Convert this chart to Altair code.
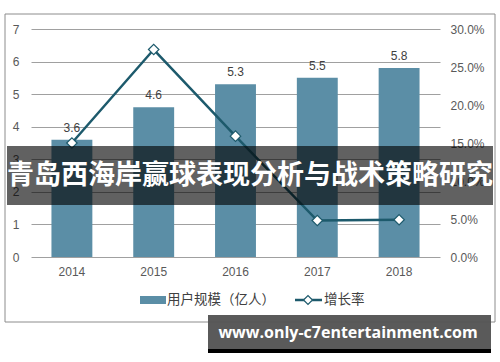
import altair as alt
import pandas as pd

years = ["2014", "2015", "2016", "2017", "2018"]
users = [3.6, 4.6, 5.3, 5.5, 5.8]
growth = [0.150, 0.273, 0.159, 0.048, 0.049]
left_ticks = [0, 1, 2, 3, 4, 5, 6, 7]
right_ticks = [0.0, 0.05, 0.10, 0.15, 0.20, 0.25, 0.30]

title_text = "青岛西海岸赢球表现分析与战术策略研究"
watermark_text = "www.only-c7entertainment.com"
legend_bar = "用户规模（亿人）"
legend_line = "增长率"

df = pd.DataFrame({"year": years, "users": users, "growth": growth})
one = pd.DataFrame({"a": [0]})

NUM_FONT = "Liberation Sans"
CJK_FONT = "Noto Sans CJK SC"
BAR_COLOR = "#5b8ea6"
LINE_COLOR = "#1d5a6c"

x_enc = alt.X("year:N", sort=years, title=None,
              scale=alt.Scale(paddingInner=0.5, paddingOuter=0.25),
              axis=alt.Axis(labelAngle=0, domain=False, ticks=False, labelPadding=9,
                            labelFont=NUM_FONT, labelFontSize=12, labelColor="#595959"))

y_left = alt.Y("users:Q", title=None,
               scale=alt.Scale(domain=[0, 7], nice=False),
               axis=alt.Axis(values=left_ticks, domain=False, ticks=False, labelPadding=12,
                             labelFont=NUM_FONT, labelFontSize=12, labelColor="#595959",
                             grid=True, gridColor="#a0a0a0", gridWidth=1))

y_right = alt.Y("growth:Q", title=None,
                scale=alt.Scale(domain=[0, 0.3], nice=False),
                axis=alt.Axis(values=right_ticks, format=".1%", orient="right", domain=False,
                              ticks=False, labelPadding=10, grid=False,
                              labelFont=NUM_FONT, labelFontSize=12, labelColor="#595959"))

base = alt.Chart(df)

frame = alt.Chart(one).mark_rect(fill=None, stroke="#8c8c8c", strokeWidth=1).encode(
    x=alt.value(-26), x2=alt.value(464), y=alt.value(-15), y2=alt.value(293))

bars = base.mark_bar(color=BAR_COLOR).encode(x=x_enc, y=y_left)
bar_labels = base.mark_text(baseline="bottom", dy=-5, font=NUM_FONT, fontSize=12,
                            color="#404040").encode(
    x=x_enc, y=y_left, text=alt.Text("users:Q", format=".1f"))

left_layer = alt.layer(bars, bar_labels)

line = base.mark_line(color=LINE_COLOR, strokeWidth=2.5).encode(x=x_enc, y=y_right)
pts = base.mark_point(shape="diamond", filled=True, fill="white", stroke=LINE_COLOR,
                      strokeWidth=1.2, size=110, opacity=1).encode(x=x_enc, y=y_right)
right_layer = alt.layer(line, pts)

# legend
leg_rect = alt.Chart(one).mark_rect(color=BAR_COLOR).encode(
    x=alt.value(109), x2=alt.value(135), y=alt.value(267), y2=alt.value(275))
leg_t1 = alt.Chart(one).mark_text(align="left", baseline="middle", font=CJK_FONT,
                                  fontSize=13.5, color="#404040").encode(
    x=alt.value(136), y=alt.value(271), text=alt.value(legend_bar))
leg_line = alt.Chart(one).mark_rule(color=LINE_COLOR, strokeWidth=2.5).encode(
    x=alt.value(264), x2=alt.value(291), y=alt.value(271))
leg_pt = alt.Chart(one).mark_point(shape="diamond", filled=True, fill="white",
                                   stroke=LINE_COLOR, strokeWidth=1.2, size=80,
                                   opacity=1).encode(
    x=alt.value(277), y=alt.value(271))
leg_t2 = alt.Chart(one).mark_text(align="left", baseline="middle", font=CJK_FONT,
                                  fontSize=13.5, color="#404040").encode(
    x=alt.value(293), y=alt.value(271), text=alt.value(legend_line))

# banner
banner = alt.Chart(one).mark_rect(color="#000000", opacity=0.62).encode(
    x=alt.value(-24), x2=alt.value(462), y=alt.value(117), y2=alt.value(176))
banner_text = alt.Chart(one).mark_text(align="center", baseline="middle", font=CJK_FONT,
                                       fontSize=27, fontWeight="bold", color="white").encode(
    x=alt.value(219), y=alt.value(147), text=alt.value(title_text))

# watermark box
wm_box = alt.Chart(one).mark_rect(color="#555555", opacity=0.97).encode(
    x=alt.value(177), x2=alt.value(460), y=alt.value(286), y2=alt.value(320))
wm_strip = alt.Chart(one).mark_rect(color="#000000").encode(
    x=alt.value(177), x2=alt.value(460), y=alt.value(320), y2=alt.value(324))
wm_text = alt.Chart(one).mark_text(align="center", baseline="middle", font="Open Sans",
                                   fontSize=16, fontWeight="bold", color="white").encode(
    x=alt.value(317), y=alt.value(304), text=alt.value(watermark_text))

chart = alt.layer(
    frame, left_layer, right_layer,
    leg_rect, leg_t1, leg_line, leg_pt, leg_t2,
    banner, banner_text, wm_box, wm_strip, wm_text,
).resolve_scale(y="independent").properties(
    width=409, height=228,
    padding={"left": 31, "top": 29, "right": 60, "bottom": 105},
    autosize=alt.AutoSizeParams(type="none"),
    background="white",
).configure_view(stroke=None)

chart.save("out.html", embed_options={"renderer": "svg", "actions": False})
